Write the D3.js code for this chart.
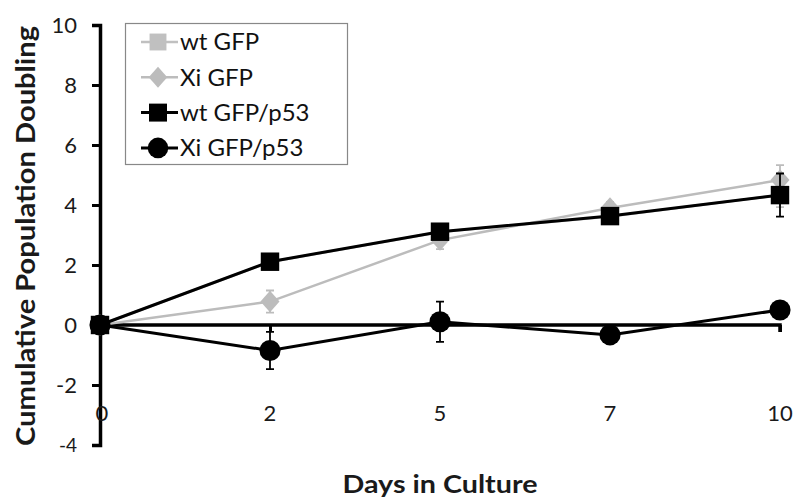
<!DOCTYPE html>
<html><head><meta charset="utf-8">
<script src="https://cdn.jsdelivr.net/npm/d3@7"></script>
<style>body{margin:0;background:#fff}svg{display:block}text{font-family:Lato,"Open Sans",sans-serif}</style>
</head><body><svg id="c" width="797" height="501"></svg>
<script>
const days = ["0","2","5","7","10"];
const yTicks = [-4,-2,0,2,4,6,8,10];
const seriesNames = ["wt GFP","Xi GFP","wt GFP/p53","Xi GFP/p53"];
const wtGFP = [0,2.1,3.1,3.62,4.33];
const xiGFP = [0,0.78,2.83,3.9,4.83];
const wtGFPp53 = [0,2.11,3.11,3.63,4.33];
const xiGFPp53 = [0,-0.85,0.11,-0.33,0.5];
const wtGFPerr = [0,0.2,0.2,0.2,0.4];
const xiGFPerr = [0,0.37,0.3,0.2,0.5];
const wtGFPp53err = [0,0.2,0.2,0.2,0.72];
const xiGFPp53err = [0,0.62,0.67,0.15,0.2];

const svg = d3.select("#c");
const x = d3.scalePoint().domain(days).range([100,780]);
const y = d3.scaleLinear().domain([-4,10]).range([445,25]);

const diamond = {draw(ctx,size){const w=Math.sqrt(size)*0.55,h=Math.sqrt(size)*0.62;ctx.moveTo(0,-h);ctx.lineTo(w,0);ctx.lineTo(0,h);ctx.lineTo(-w,0);ctx.closePath();}};
const styles = [
  {color:"#c0c0c0", sym:d3.symbolSquare, size:300, w:2.5},
  {color:"#bcbcbc", sym:diamond, size:300, w:2.5},
  {color:"#000", sym:d3.symbolSquare, size:340, w:3},
  {color:"#000", sym:d3.symbolCircle, size:350, w:3}
];
const data = [wtGFP, xiGFP, wtGFPp53, xiGFPp53];
const errs = [wtGFPerr, xiGFPerr, wtGFPp53err, xiGFPp53err];

// y axis
const yAxis = d3.axisLeft(y).tickValues(yTicks).tickSize(8).tickPadding(15).tickFormat(d=>String(d));
const gy = svg.append("g").attr("transform","translate(100,0)").call(yAxis);
gy.select(".domain").attr("stroke","#000").attr("stroke-width",3.5);
gy.selectAll(".tick line").attr("stroke","#000").attr("stroke-width",3);
gy.selectAll(".tick text").attr("font-size",22).attr("fill","#1a1a1a");
gy.select(".tick:first-of-type text").attr("font-size",19);

// x axis at y=0
const xAxis = d3.axisBottom(x).tickSize(7).tickFormat("");
const gx = svg.append("g").attr("transform",`translate(0,${y(0)})`).call(xAxis);
gx.select(".domain").attr("stroke","#000").attr("stroke-width",3.5).attr("d",`M100,6V0H780V7`);
gx.selectAll(".tick line").attr("stroke","#000").attr("stroke-width",3);
// low-position tick labels
svg.append("g").selectAll("text").data(days).join("text")
  .attr("x",d=>x(d)+(d==="0"?2:0)).attr("y",421).attr("text-anchor","middle")
  .attr("font-size",22).attr("fill","#1a1a1a").text(d=>d);

// series
const line = d3.line().x((d,i)=>x(days[i])).y(d=>y(d));
data.forEach((vals,si)=>{
  const s = styles[si];
  const g = svg.append("g");
  vals.forEach((v,i)=>{
    const e = errs[si][i]; if(!e) return;
    const cx = x(days[i]);
    g.append("path").attr("d",`M${cx},${y(v+e)}V${y(v-e)}M${cx-4},${y(v+e)}H${cx+4}M${cx-4},${y(v-e)}H${cx+4}`)
      .attr("stroke",s.color).attr("stroke-width",1.8).attr("fill","none");
  });
  g.append("path").datum(vals).attr("d",line).attr("fill","none").attr("stroke",s.color).attr("stroke-width",s.w);
  g.selectAll(".m").data(vals).join("path").attr("class","m")
    .attr("transform",(d,i)=>`translate(${x(days[i])},${y(d)})`)
    .attr("d",d3.symbol().type(s.sym).size(s.size)).attr("fill",s.color);
});

// legend
const lg = svg.append("g");
lg.append("rect").attr("x",125.5).attr("y",23.5).attr("width",222).attr("height",141)
  .attr("fill","#fff").attr("stroke","#888").attr("stroke-width",1.2);
seriesNames.forEach((n,i)=>{
  const s = styles[i];
  const cy = 42 + i*35.3;
  lg.append("line").attr("x1",141).attr("x2",178).attr("y1",cy).attr("y2",cy).attr("stroke",s.color).attr("stroke-width",s.w);
  lg.append("path").attr("transform",`translate(158,${cy})`).attr("d",d3.symbol().type(s.sym).size(s.size*0.95)).attr("fill",s.color);
  lg.append("text").attr("x",180).attr("y",cy).attr("dy","0.35em").attr("font-size",24).attr("fill","#111").text(n);
});

// axis titles
svg.append("text").attr("x",440).attr("y",493).attr("text-anchor","middle").attr("font-size",25)
  .attr("font-weight","bold").attr("fill","#1a1a1a").attr("textLength",195).attr("lengthAdjust","spacingAndGlyphs").text("Days in Culture");
svg.append("text").attr("transform","translate(35,236) rotate(-90)").attr("text-anchor","middle").attr("font-size",27)
  .attr("font-weight","bold").attr("fill","#1a1a1a").attr("textLength",420).attr("lengthAdjust","spacingAndGlyphs").text("Cumulative Population Doubling");
</script></body></html>
